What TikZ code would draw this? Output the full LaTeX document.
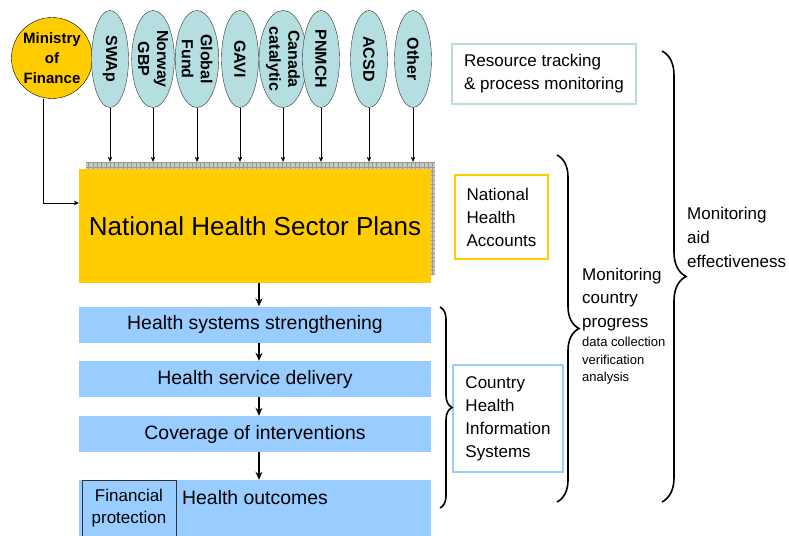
\documentclass[tikz,border=0pt]{standalone}
\usepackage{fontspec}
\setmainfont{Liberation Sans}
\usepackage{tikz}
\usetikzlibrary{shapes.geometric, arrows.meta, positioning, decorations.pathreplacing}
\definecolor{myyellow}{RGB}{255,204,0}
\definecolor{myblue}{RGB}{153,204,255}
\definecolor{myteal}{RGB}{180,222,224}
\tikzstyle{donor} = [ellipse, draw=black!80, fill=myteal, rotate=-90, minimum width=97pt, minimum height=37pt, inner sep=0pt, align=center, font=\fontsize{16}{19}\selectfont\bfseries]
\tikzstyle{arrow} = [->, >={Stealth[length=5pt,width=4.5pt]}]
\tikzstyle{bigarrow} = [->, line width=1.6pt, >={Stealth[length=8pt,width=7pt]}]

\begin{document}
\begin{tikzpicture}[x=1pt, y=-1pt,
    level/.style={rectangle, fill=myblue, minimum width=352pt, minimum height=36pt, inner sep=0pt, font=\fontsize{19.4}{23}\selectfont},
    tool/.style={rectangle, line width=2.4pt, inner sep=0pt, align=left, font=\fontsize{17}{23}\selectfont},
    plain/.style={inner sep=0pt, align=left},
    bracket/.style={decorate, decoration={brace, amplitude=#1}, line width=1.6pt}]
    \useasboundingbox (0,0) rectangle (789,535);
    % funding sources
    \node[circle, draw, fill=myyellow, minimum size=81pt, inner sep=0pt, align=center, font=\fontsize{15}{20}\selectfont\bfseries] (mof) at (52,58) {Ministry\\of\\Finance};
    \node[donor] (swap)   at (110,59) {SWAp};
    \node[donor] (norway) at (153,59) {Norway\\GBP};
    \node[donor] (fund)   at (197,59) {Global\\Fund};
    \node[donor] (gavi)   at (240,59) {GAVI};
    \node[donor] (canada) at (283,59) {Canada\\catalytic};
    \node[donor] (pnmch)  at (321,59) {PNMCH};
    \node[donor] (acsd)   at (369,59) {ACSD};
    \node[donor] (other)  at (413,59) {Other};
    % sector plan with hatched shadow
    \node[rectangle, fill=black!22, minimum width=349pt, minimum height=113pt, inner sep=0pt,
      path picture={\draw[black!40, line width=0.4pt, step=4.3pt] (path picture bounding box.south west) grid (path picture bounding box.north east);}] (shade) at (260.5,218.5) {};
    \node[rectangle, fill=myyellow, minimum width=352pt, minimum height=114pt, inner sep=0pt, font=\fontsize{26}{30}\selectfont] (nhsp) at (255,226) {National Health Sector Plans};
    % results chain
    \node[level] (hss) at (255,324.5) {Health systems strengthening};
    \node[level] (hsd) at (255,379) {Health service delivery};
    \node[level] (cov) at (255,434) {Coverage of interventions};
    \node[level, minimum height=57pt] (hout) at (255,508.5) {};
    \node[rectangle, draw=black!80, fill=myblue, minimum width=94pt, minimum height=57pt, inner sep=0pt, align=center, font=\fontsize{17}{22}\selectfont] (fin) at (129,508.5) {Financial\\protection};
    \node[plain, anchor=west, font=\fontsize{19.4}{23}\selectfont] (houttext) at (182,498) {Health outcomes};
    % arrows
    \foreach \d in {swap,norway,fund,gavi,canada,pnmch,acsd,other}
      \draw[arrow] (\d) -- (\d |- shade.north);
    \draw[arrow] ([xshift=-9pt]mof.south) |- ([yshift=23pt]nhsp.west);
    \draw[bigarrow] ([xshift=4pt]nhsp.south) -- ([xshift=4pt]hss.north);
    \draw[bigarrow] ([xshift=4pt]hss.south) -- ([xshift=4pt]hsd.north);
    \draw[bigarrow] ([xshift=4pt]hsd.south) -- ([xshift=4pt]cov.north);
    \draw[bigarrow] ([xshift=4pt]cov.south) -- ([xshift=4pt]hout.north);
    % monitoring tools
    \node[tool, draw=myteal, minimum width=184pt, minimum height=60pt] (rt) at (544,74) {Resource tracking\\\& process monitoring};
    \node[tool, draw=myyellow, minimum width=93pt, minimum height=84pt] (nha) at (501.5,217) {National\\Health\\Accounts};
    \node[tool, draw=myblue, minimum width=110pt, minimum height=107pt] (chis) at (508,418.5) {Country\\Health\\Information\\Systems};
    % braces
    \draw[bracket=12pt] (440,307) -- (440,508);
    \draw[bracket=22pt] (557,155) -- (557,502);
    \draw[bracket=24pt] (662,51) -- (662,502);
    \node[plain, anchor=west, font=\fontsize{17}{23.5}\selectfont] (mcp) at (582,299.5) {Monitoring\\country\\progress};
    \node[plain, anchor=west, font=\fontsize{13}{17.5}\selectfont] (steps) at (582,361) {data collection\\verification\\analysis};
    \node[plain, anchor=west, font=\fontsize{17}{24}\selectfont] (mae) at (687,237) {Monitoring\\aid\\effectiveness};
\end{tikzpicture}
\end{document}
